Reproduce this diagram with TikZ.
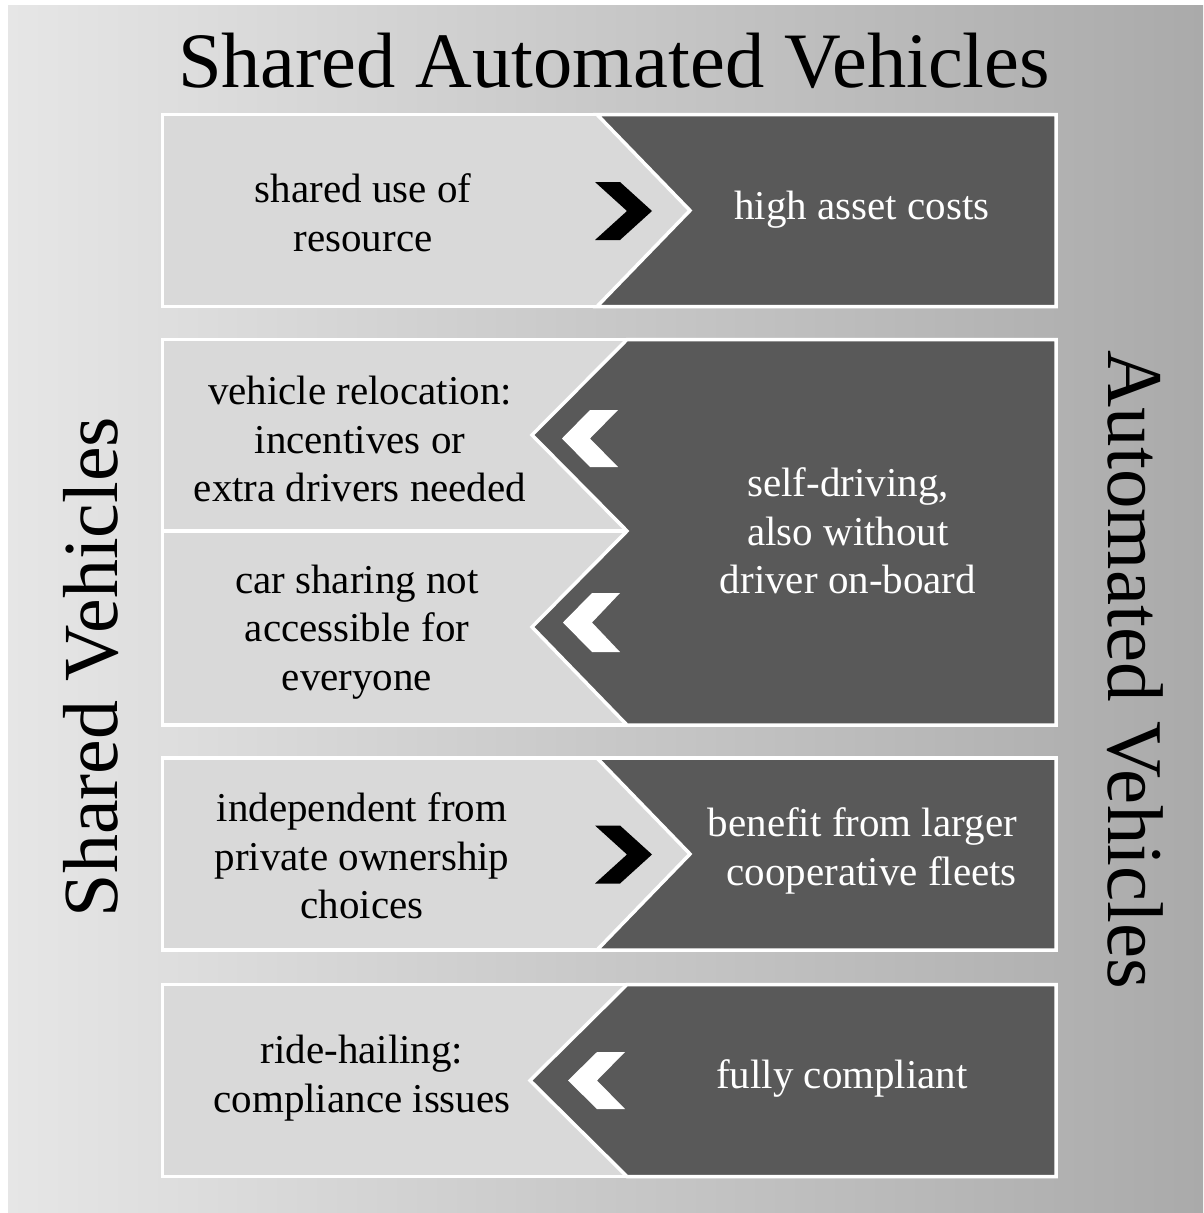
\documentclass[tikz,border=0pt]{standalone}
\usepackage{fontspec}
\setmainfont{Liberation Serif}
\definecolor{bgL}{HTML}{E6E6E6}
\definecolor{bgR}{HTML}{AAAAAA}
\definecolor{lightbox}{HTML}{D9D9D9}
\definecolor{darkbox}{HTML}{595959}
\begin{document}
\begin{tikzpicture}[x=1pt,y=-1pt,
  frame/.style={draw=white,line width=3.5pt,line join=miter},
  lightpart/.style={fill=lightbox,draw=white,line width=3.5pt},
  darkpart/.style={fill=darkbox,draw=white,line width=3.5pt,line join=miter},
  bodytxt/.style={font=\fontsize{41}{48.5}\selectfont,align=center,inner sep=0pt},
  ltxt/.style={bodytxt,text=black},
  dtxt/.style={bodytxt,text=white},
  bigtxt/.style={font=\fontsize{78.5}{80}\selectfont,inner sep=0pt},
  chev/.style={fill=black,draw=none},
  wchev/.style={fill=white,draw=none}]
\useasboundingbox (0,0) rectangle (1203,1213);
% background
\shade[left color=bgL,right color=bgR] (8,5) rectangle (1203,1213);
% title and side labels
\node[bigtxt,anchor=base] (title) at (614,87) {Shared Automated Vehicles};
\node[bigtxt,rotate=90,anchor=center,font=\fontsize{78}{80}\selectfont] (lsv) at (91,667) {Shared Vehicles};
\node[bigtxt,rotate=-90,anchor=center,font=\fontsize{79}{80}\selectfont] (rav) at (1135,670) {Automated Vehicles};
% row 1
\path[lightpart] (162.5,114.5) rectangle (1056,306.5);
\path[darkpart] (597,114.5) -- (1056,114.5) -- (1056,306.5) -- (597,306.5) -- (690,210.5) -- cycle;
\fill[chev] (595,182) -- (620,182) -- (652,211) -- (620,240) -- (595,240) -- (627,211) -- cycle;
\node[ltxt] (r1l) at (363,213) {shared use of\\resource};
\node[dtxt] (r1r) at (862,210) {high asset costs};
% row 2
\path[lightpart] (162.5,339.5) rectangle (1056,725);
\draw[frame] (162.5,531) -- (627,531);
\path[darkpart] (627,339.5) -- (1056,339.5) -- (1056,725) -- (627,725) -- (532,627) -- (627,531) -- (532,435) -- cycle;
\fill[wchev] (618,410) -- (590,410) -- (562,438.5) -- (590,467) -- (618,467) -- (590,438.5) -- cycle;
\fill[wchev] (620,593) -- (592,593) -- (563,622.5) -- (592,652) -- (620,652) -- (592,622.5) -- cycle;
\node[ltxt] (r2a) at (360,439) {vehicle relocation:\\incentives or\\extra drivers needed};
\node[ltxt] (r2b) at (357,632) {car sharing not\\accessible for\\everyone};
\node[dtxt] (r2r) at (848,531) {self-driving,\\also without\\driver on-board};
% row 3
\path[lightpart] (162.5,758) rectangle (1056,950);
\path[darkpart] (597,758) -- (1056,758) -- (1056,950) -- (597,950) -- (690,854) -- cycle;
\fill[chev] (595,825.5) -- (620,825.5) -- (652,854.5) -- (620,883.5) -- (595,883.5) -- (627,854.5) -- cycle;
\node[ltxt] (r3l) at (362,856) {independent from\\private ownership\\choices};
\node[dtxt,align=right,anchor=east] (r3r) at (1017,851) {benefit from larger\\cooperative fleets};
% row 4
\path[lightpart] (162.5,984.5) rectangle (1056,1176.5);
\path[darkpart] (627,984.5) -- (1056,984.5) -- (1056,1176.5) -- (627,1176.5) -- (530,1080.5) -- cycle;
\fill[wchev] (625,1052) -- (597,1052) -- (568,1080.5) -- (597,1109) -- (625,1109) -- (597,1080.5) -- cycle;
\node[ltxt] (r4l) at (362,1078) {ride-hailing:\\compliance issues};
\node[dtxt] (r4r) at (842,1078) {fully compliant};
\end{tikzpicture}
\end{document}
